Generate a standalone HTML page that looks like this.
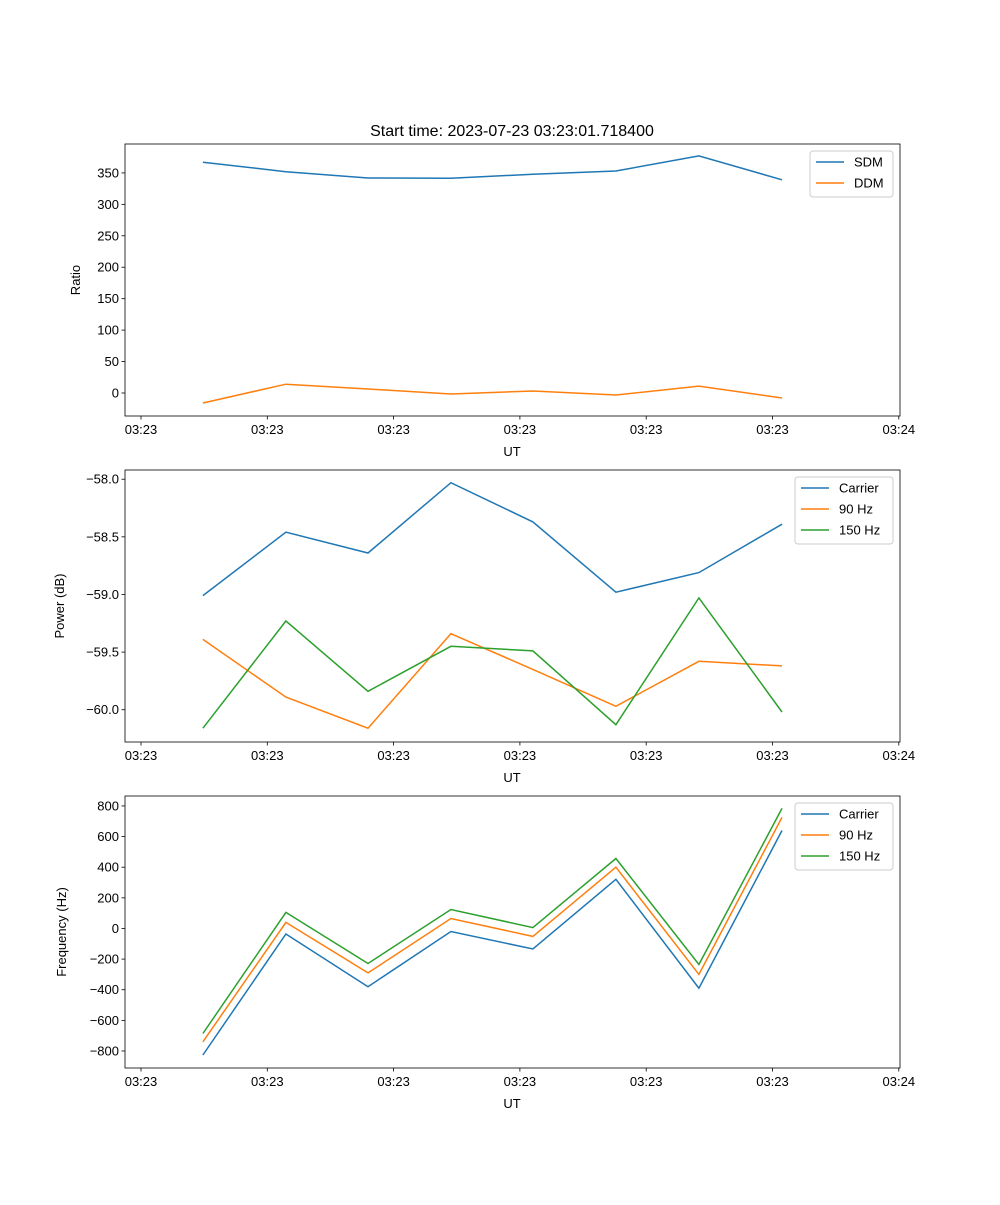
<!DOCTYPE html>
<html><head><meta charset="utf-8"><style>
body{margin:0;background:#fff;}
svg text{font-family:"Liberation Sans","DejaVu Sans",sans-serif;fill:#000;}
</style></head><body>
<svg id="fig" width="1000" height="1200" xmlns="http://www.w3.org/2000/svg"></svg>
<script>
const times = [4.9, 11.47, 17.97, 24.54, 31.03, 37.6, 44.17, 50.75];
const xTickVals = [0, 10, 20, 30, 40, 50, 60];
const xTickLabels = ["03:23","03:23","03:23","03:23","03:23","03:23","03:24"];
const sdm = [367, 352, 342, 341.5, 348, 353, 377, 339];
const ddm = [-16, 14, 6.4, -1.6, 3.2, -3.2, 11, -8];
const pCarrier = [-59.01, -58.46, -58.64, -58.03, -58.37, -58.98, -58.81, -58.39];
const p90 = [-59.39, -59.89, -60.16, -59.34, -59.65, -59.97, -59.58, -59.62];
const p150 = [-60.16, -59.23, -59.84, -59.45, -59.49, -60.13, -59.03, -60.02];
const fCarrier = [-826, -36, -380, -20, -134, 321, -390, 640];
const f90 = [-740, 40, -290, 65, -52, 400, -300, 725];
const f150 = [-686, 105, -229, 124, 6, 457, -235, 784];
const ticks1 = [0,50,100,150,200,250,300,350];
const ticks2 = [-60.0,-59.5,-59.0,-58.5,-58.0];
const ticks3 = [-800,-600,-400,-200,0,200,400,600,800];

const NS="http://www.w3.org/2000/svg";
const svg=document.getElementById('fig');
function mk(tag,attrs,parent){const e=document.createElementNS(NS,tag);for(const k in attrs)e.setAttribute(k,attrs[k]);(parent||svg).appendChild(e);return e;}
const L=125,R=900;
function xs(t){return 141+(t/10)*126.3;}
const colors={blue:"#1f77b4",orange:"#ff7f0e",green:"#2ca02c"};

function panel(id,top,bot,ymin,ymax,ticks,fmt,ylabel,yx,series,legend){
  const g=mk('g',{});
  
  
  const ys=v=>bot-(v-ymin)/(ymax-ymin)*(bot-top);
  series.forEach(s=>{
    const pts=s.vals.map((v,i)=>xs(times[i]).toFixed(1)+','+ys(v).toFixed(1)).join(' ');
    const pl=mk('polyline',{points:pts,fill:'none',stroke:s.color,'stroke-width':1.5},g);
    
    
  });
  const fr=mk('rect',{x:L,y:top,width:R-L,height:bot-top,fill:'none',stroke:'#000','stroke-width':0.8},g);
  
  
  xTickVals.forEach((t,i)=>{
    const x=xs(t);
    mk('line',{x1:x,x2:x,y1:bot,y2:bot+3.5,stroke:'#000','stroke-width':0.8},g);
    const tx=mk('text',{x:x,y:bot+18,'font-size':13,'text-anchor':'middle'},g);
    tx.textContent=xTickLabels[i];
    
    
  });
  const xl=mk('text',{x:512,y:bot+40,'font-size':13,'text-anchor':'middle'},g);
  xl.textContent='UT';
  
  
  ticks.forEach(v=>{
    const y=ys(v);
    mk('line',{x1:L-3.5,x2:L,y1:y,y2:y,stroke:'#000','stroke-width':0.8},g);
    const tx=mk('text',{x:L-6,y:y+4.5,'font-size':13,'text-anchor':'end'},g);
    tx.textContent=fmt(v);
    
    
  });
  const yl=mk('text',{x:yx,y:(top+bot)/2,'font-size':13,'text-anchor':'middle',transform:`rotate(-90 ${yx} ${(top+bot)/2})`},g);
  yl.textContent=ylabel;
  
  
  const lg=mk('g',{},g);
  
  
  mk('rect',{x:legend.x,y:top+7,width:legend.w,height:series.length*21+4,rx:3,fill:'#fff',stroke:'#ccc','stroke-width':1},lg);
  series.forEach((s,i)=>{
    const y=top+18+i*21;
    mk('line',{x1:legend.x+6,x2:legend.x+34,y1:y,y2:y,stroke:s.color,'stroke-width':1.5},lg);
    const t=mk('text',{x:legend.x+44,y:y+4.5,'font-size':13},lg);
    t.textContent=s.label;
    
    
  });
}
const minus=s=>s.replace('-','\u2212');
const title=mk('text',{x:512,y:136,'font-size':16,'text-anchor':'middle'});
title.textContent='Start time: 2023-07-23 03:23:01.718400';


panel('ratio-panel',144,416,-36.6,396,ticks1,v=>minus(String(v)),'Ratio',80,
 [{key:'sdm',label:'SDM',vals:sdm,color:colors.blue},{key:'ddm',label:'DDM',vals:ddm,color:colors.orange}],{x:810,w:83});
panel('power-panel',470,742,-60.28,-57.92,ticks2,v=>minus(v.toFixed(1)),'Power (dB)',64,
 [{key:'carrier',label:'Carrier',vals:pCarrier,color:colors.blue},{key:'90hz',label:'90 Hz',vals:p90,color:colors.orange},{key:'150hz',label:'150 Hz',vals:p150,color:colors.green}],{x:795,w:98});
panel('frequency-panel',796,1068,-911,865,ticks3,v=>minus(String(v)),'Frequency (Hz)',66,
 [{key:'carrier',label:'Carrier',vals:fCarrier,color:colors.blue},{key:'90hz',label:'90 Hz',vals:f90,color:colors.orange},{key:'150hz',label:'150 Hz',vals:f150,color:colors.green}],{x:795,w:98});
</script>
</body></html>
